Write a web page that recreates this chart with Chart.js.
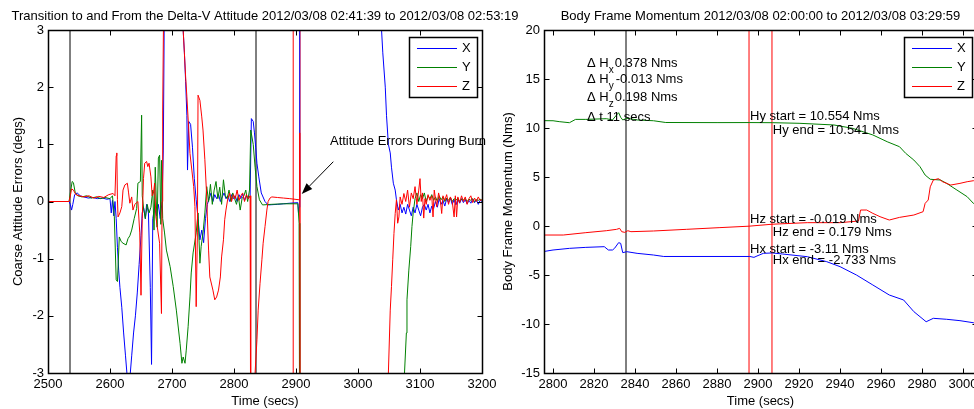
<!DOCTYPE html>
<html><head><meta charset="utf-8">
<script src="https://cdn.jsdelivr.net/npm/chart.js@4.4.1/dist/chart.umd.min.js"></script>
<style>
html,body{margin:0;padding:0;overflow:hidden;background:#fff;width:974px;height:409px}
#c1{position:absolute;left:0;top:0}
#c2{position:absolute;left:490px;top:0}
</style></head><body>
<canvas id="c1" width="974" height="409"></canvas>
<canvas id="c2" width="500" height="409"></canvas>
<script>
// ---------------- DATA ----------------
const seriesNames = ['X', 'Y', 'Z'];

// Left panel: attitude errors (degs) vs time (secs)
const attitudeTicksX = [2500, 2600, 2700, 2800, 2900, 3000, 3100, 3200];
const attitudeTicksY = [-3, -2, -1, 0, 1, 2, 3];
const attitudeMarkersBlack = [2535.5, 2835.5];
const attitudeMarkersRed = [2895.5, 2906.5];

const attitudeX = [
 [2500,0],[2534,0],[2536,-0.05],[2538,-0.15],[2540,-0.05],[2543,0.12],[2547,0.15],[2552,0.1],[2558,0.08],[2565,0.06],
 [2572,0.07],[2580,0.05],[2588,0.06],[2595,0.04],[2600,0.05],[2602,-0.2],[2604,0.02],[2606,-0.25],[2608,0.0],[2610,-0.3],
 [2612,-0.8],[2614,-1.2],[2616,-1.5],[2619,-1.85],[2622,-2.3],[2625,-2.7],[2628,-3.1],[2632,-3.1],[2635,-2.7],[2638,-2.3],
 [2641,-2.0],[2644,-1.6],[2647,-1.1],[2650,-0.6],[2652,-0.2],[2654,-0.1],[2657,-0.3],[2659,-0.05],[2662,-0.2],[2665,-1.5],
 [2667,-2.85],[2669,-0.3],[2672,-0.1],[2675,-0.25],[2678,-0.05],[2681,-0.3],[2684,0.0],[2686,0.9],[2688,4],[2716,4],
 [2718,3.0],[2720,2.6],[2722,2.1],[2724,1.5],[2725,0.55],[2727,1.4],[2730,1.35],[2733,0.95],[2736,0.4],[2739,0.03],
 [2742,-0.3],[2745,-0.67],[2748,-0.5],[2751,-0.72],[2754,-0.3],[2757,-0.05],[2760,0.05],[2763,0.15],[2766,0.0],[2769,0.12],
 [2772,0.05],[2775,0.13],[2778,0.0],[2781,0.08],[2784,0.15],[2787,0.05],[2790,0.1],[2793,0.0],[2796,0.12],[2799,0.05],
 [2802,0.1],[2805,0.0],[2808,0.12],[2811,0.05],[2814,0.13],[2817,0.02],[2820,0.1],[2823,0.05],[2826,0.1],[2828,1.45],
 [2831,1.4],[2833,1.2],[2835,0.95],[2837,0.67],[2840,0.43],[2844,0.15],[2850,0.0],[2855,-0.06],[2870,-0.05],[2890,-0.03],
 [2903,-0.02],[2904,-0.2],[2905,-0.1],[2906,4],[3036,4],[3038,3],[3040,2.6],[3044,2.0],[3046,1.5],[3049,1.0],
 [3052,0.85],[3054,0.6],[3057,0.32],[3060,0.2],[3062,0.03],[3065,-0.15],[3068,-0.05],[3071,-0.2],[3074,-0.1],[3077,-0.22],
 [3080,-0.05],[3083,-0.15],[3086,-0.25],[3089,-0.1],[3092,-0.2],[3095,-0.05],[3098,-0.15],[3101,-0.25],[3104,-0.1],[3107,-0.05],
 [3110,-0.15],[3113,-0.05],[3116,-0.2],[3119,-0.08],[3122,-0.12],[3125,0.0],[3128,-0.1],[3131,0.05],[3134,-0.05],[3137,0.02],
 [3140,-0.08],[3143,0.05],[3146,-0.02],[3149,0.06],[3152,-0.05],[3155,0.03],[3158,-0.06],[3161,0.04],[3164,-0.03],[3167,0.05],
 [3170,-0.02],[3173,0.03],[3176,-0.04],[3179,0.02],[3182,-0.03],[3185,0.04],[3188,-0.02],[3191,0.03],[3194,-0.05],[3197,0.02],[3200,0.0]
];
const attitudeY = [
 [2500,0],[2534,0],[2536,0.15],[2539,0.35],[2541,0.33],[2544,0.15],[2548,0.1],[2555,0.08],[2562,0.1],[2570,0.06],
 [2578,0.08],[2585,0.05],[2592,0.07],[2600,0.05],[2604,0.1],[2607,-0.27],[2610,-1.37],[2612,-1.4],[2615,-0.62],[2618,-0.7],
 [2621,-0.73],[2626,-0.76],[2629,-0.65],[2632,-0.6],[2635,-0.5],[2639,-0.3],[2643,-0.12],[2645,0.32],[2649,0.35],[2651,1.51],
 [2652,0.1],[2654,-0.1],[2657,-0.3],[2660,-0.05],[2663,-0.2],[2666,-0.1],[2669,0.2],[2671,-0.5],[2673,0.6],[2676,-0.45],
 [2678,0.76],[2680,0.81],[2682,-0.4],[2683,0.72],[2685,-0.3],[2688,-0.55],[2691,-0.85],[2697,-1.14],[2702,-1.49],[2707,-1.9],
 [2713,-2.48],[2716,-2.83],[2718,-2.72],[2721,-2.83],[2723,-2.6],[2726,-2.19],[2729,-1.67],[2731,-1.25],[2734,-0.9],[2739,-0.55],
 [2742,-0.2],[2745,-1.08],[2747,-0.79],[2750,-0.55],[2753,-0.2],[2756,0.26],[2759,0.0],[2762,0.3],[2765,-0.05],[2768,0.2],
 [2771,0.35],[2774,0.05],[2777,0.25],[2780,-0.05],[2783,0.38],[2786,0.1],[2789,0.05],[2792,0.2],[2795,0.0],[2798,0.15],
 [2801,0.05],[2804,-0.05],[2807,0.1],[2810,-0.15],[2813,0.05],[2816,0.1],[2819,0.2],[2822,0.0],[2825,0.2],[2827,1.25],
 [2831,1.0],[2834,0.6],[2837,0.26],[2841,0.03],[2846,-0.06],[2860,-0.05],[2880,-0.04],[2903,-0.04],[2905,-0.38],[2906,-5],
 [3074,-5],[3075,-3.0],[3078,-2.3],[3079,-1.72],[3082,-1.2],[3085,-0.79],[3087,-0.44],[3089,-0.2],[3092,0.05],[3095,0.15],
 [3098,0.0],[3101,0.12],[3104,0.05],[3107,0.15],[3110,0.0],[3113,0.1],[3116,0.05],[3119,0.12],[3122,0.02],[3125,0.08],
 [3128,0.0],[3131,0.1],[3134,0.03],[3137,0.08],[3140,0.0],[3143,0.06],[3146,0.02],[3149,0.07],[3152,0.0],[3155,0.05],
 [3158,0.02],[3161,0.06],[3164,0.0],[3167,0.04],[3170,0.03],[3173,0.05],[3176,0.0],[3179,0.04],[3182,0.02],[3185,0.05],
 [3188,0.0],[3191,0.03],[3194,0.02],[3197,0.04],[3200,0.02]
];
const attitudeZ = [
 [2500,0],[2534,0],[2536,0.1],[2538,0.22],[2541,0.2],[2545,0.12],[2550,0.1],[2558,0.08],[2566,0.1],[2574,0.06],
 [2582,0.09],[2590,0.07],[2598,0.12],[2605,0.14],[2608,0.1],[2610,0.8],[2611,0.85],[2612,0.03],[2613,-0.27],[2616,-0.2],
 [2619,-0.09],[2621,0.2],[2624,0.29],[2628,0.32],[2630,0.15],[2632,-0.03],[2635,0.08],[2637,-0.15],[2640,-0.05],[2645,0.0],
 [2648,-0.55],[2650,-1.64],[2652,-0.3],[2654,0.4],[2656,0.67],[2659,0.7],[2661,0.61],[2663,0.67],[2666,0.43],[2668,0.1],
 [2670,0.14],[2672,0.32],[2674,-0.27],[2677,-0.5],[2680,-0.73],[2683,-1.96],[2684,0.0],[2685,1.6],[2687,4],[2716,4],
 [2718,3.0],[2720,2.6],[2722,2.18],[2724,1.83],[2727,1.25],[2729,0.84],[2732,0.55],[2735,0.26],[2737,-0.09],[2739,-1.84],
 [2741,-0.55],[2742,1.86],[2745,1.77],[2748,1.48],[2750,1.25],[2753,0.73],[2756,0.08],[2757,-0.27],[2759,-0.85],[2761,-1.32],
 [2766,-1.55],[2769,-1.72],[2772,-1.67],[2775,-1.55],[2778,-1.32],[2780,-0.97],[2783,-0.67],[2785,-0.32],[2787,-0.15],[2790,0.05],
 [2793,0.15],[2796,0.0],[2799,0.12],[2802,0.05],[2805,0.2],[2808,0.02],[2811,0.1],[2814,0.15],[2817,0.0],[2820,0.12],
 [2823,0.05],[2826,0.1],[2827,-5],[2833,-5],[2834,-3.0],[2837,-2.42],[2839,-1.9],[2842,-1.43],[2845,-1.02],[2847,-0.73],
 [2850,-0.44],[2853,-0.15],[2855,0.0],[2858,0.06],[2861,0.08],[2870,0.07],[2880,0.06],[2890,0.05],[2905,0.03],[2906,1.2],
 [2906.5,-5],[3048,-5],[3049,-3.0],[3052,-1.9],[3054,-1.49],[3056,-1.02],[3058,-0.56],[3060,-0.21],[3062,0.03],[3064,-0.38],
 [3066,-0.27],[3068,0.08],[3071,-0.05],[3074,0.14],[3077,0.0],[3080,0.2],[3083,-0.1],[3086,0.15],[3089,0.05],[3092,0.26],
 [3095,-0.05],[3098,0.2],[3100,0.4],[3102,0.0],[3104,0.15],[3106,-0.29],[3108,0.05],[3110,-0.05],[3113,0.12],[3116,0.02],
 [3119,0.1],[3121,-0.27],[3123,0.2],[3125,0.05],[3127,-0.09],[3130,0.15],[3133,0.0],[3135,-0.21],[3137,0.1],[3140,0.02],
 [3143,0.12],[3146,-0.05],[3149,0.08],[3152,0.0],[3155,-0.27],[3157,0.1],[3159,-0.27],[3161,0.08],[3164,-0.02],[3167,0.1],
 [3170,0.0],[3173,0.08],[3176,-0.05],[3179,0.05],[3182,0.1],[3185,-0.02],[3188,0.06],[3191,0.0],[3194,0.08],[3197,0.02],[3200,0.03]
];

// Right panel: body frame momentum (Nms) vs time (secs)
const momentumTicksX = [2800, 2820, 2840, 2860, 2880, 2900, 2920, 2940, 2960, 2980, 3000];
const momentumTicksY = [-15, -10, -5, 0, 5, 10, 15, 20];
const momentumMarkersBlack = [2835.6];
const momentumMarkersRed = [2895.6, 2906.8];

const momentumX = [
 [2795,-2.62],[2800,-2.45],[2808,-2.28],[2816,-2.18],[2825,-2.11],[2827,-2.45],[2829,-2.45],[2830,-2.28],[2832,-1.7],[2833,-1.77],
 [2834,-2.72],[2836,-2.62],[2841,-2.79],[2849,-2.96],[2854,-3.11],[2896,-3.11],[2898,-3.2],[2899.5,-3.06],[2902.6,-2.79],[2907,-2.75],
 [2912,-2.86],[2924,-3.13],[2933.5,-3.64],[2940,-4.15],[2948,-5.0],[2956,-6.02],[2964,-7.04],[2971,-7.55],[2976,-8.74],[2982,-9.77],
 [2985.5,-9.42],[2992,-9.52],[2998.5,-9.66],[3005,-9.87],[3008,-9.9]
];
const momentumY = [
 [2795,10.75],[2800,10.74],[2803,10.65],[2808,10.54],[2811,10.88],[2816,10.88],[2826,10.95],[2829,10.82],[2831,11.33],[2832,11.56],
 [2833,11.09],[2834,10.82],[2836,10.99],[2841,10.82],[2849,10.74],[2855,10.56],[2880,10.55],[2896,10.554],[2907,10.541],[2920,10.48],
 [2937,10.31],[2946,9.97],[2956,9.29],[2963,8.6],[2969,8.09],[2972,7.42],[2976,6.73],[2979,6.05],[2981.5,5.2],[2984,4.77],
 [2989,4.69],[2992,4.35],[2997,3.67],[3002,2.99],[3005,2.32],[3008,1.9]
];
const momentumZ = [
 [2795,-0.92],[2805,-0.92],[2816,-0.68],[2826,-0.48],[2831,-0.34],[2832.5,-0.24],[2833.5,-0.58],[2835,-0.65],[2836.5,-0.48],[2838,-0.58],
 [2849,-0.51],[2865,-0.34],[2881,-0.17],[2895.6,-0.019],[2906.8,0.179],[2924,0.34],[2940,0.34],[2949,0.51],[2950,1.63],[2953,1.63],
 [2956,1.29],[2959.5,0.95],[2964,0.61],[2969,0.88],[2976,1.12],[2980.5,1.46],[2981.5,2.31],[2983,2.65],[2984,4.0],[2985.5,4.69],
 [2988,4.83],[2990,4.52],[2994,4.18],[2998.5,4.35],[3002,4.52],[3005,4.62],[3008,4.6]
];

// ---------------- STYLE / LAYOUT ----------------
const FONT = '"Liberation Sans", Arial, Helvetica, sans-serif';
const COLORS = { X: '#0000ff', Y: '#008000', Z: '#ff0000' };

function seriesDatasets(x, y, z) {
  const mk = (name, d, order) => ({ label: name, data: d, borderColor: COLORS[name], borderWidth: 1,
    pointRadius: 0, tension: 0, fill: false, order });
  return [mk('Z', z, 1), mk('Y', y, 2), mk('X', x, 3)];
}
function markerDatasets(times, color) {
  return times.map(t => ({ data: [[t, -1000], [t, 1000]], borderColor: color, borderWidth: 1,
    pointRadius: 0, fill: false, order: 4 }));
}

function drawRich(ctx, parts, x, y) {
  let cx = x;
  parts.forEach(p => {
    ctx.font = (p.sub ? 10 : 13) + 'px ' + FONT;
    ctx.fillText(p.t, cx, y + (p.sub ? 6 : 0));
    cx += ctx.measureText(p.t).width + (p.gap || 0);
  });
}

const matlabPlugin = {
  id: 'matlab',
  afterDraw(chart, args, o) {
    const { ctx, chartArea: a } = chart;
    const xs = chart.scales.x, ys = chart.scales.y;
    ctx.save();
    ctx.strokeStyle = '#000'; ctx.fillStyle = '#000';
    const L = Math.round(a.left) + 0.5, R = Math.round(a.right) + 0.5;
    const T = Math.round(a.top) + 0.5, B = Math.round(a.bottom) + 0.5;
    ctx.lineWidth = 1.5;
    ctx.beginPath(); ctx.rect(L, T, R - L, B - T); ctx.stroke();
    ctx.lineWidth = 1;
    const tl = 5;
    ctx.beginPath();
    xs.ticks.forEach(t => { const p = Math.round(xs.getPixelForValue(t.value)) + 0.5;
      ctx.moveTo(p, B); ctx.lineTo(p, B - tl); ctx.moveTo(p, T); ctx.lineTo(p, T + tl); });
    ys.ticks.forEach(t => { const p = Math.round(ys.getPixelForValue(t.value)) + 0.5;
      ctx.moveTo(L, p); ctx.lineTo(L + tl, p); ctx.moveTo(R, p); ctx.lineTo(R - tl, p); });
    ctx.stroke();

    // title and axis labels
    ctx.font = '13px ' + FONT; ctx.textBaseline = 'alphabetic'; ctx.textAlign = 'center';
    const cx = (a.left + a.right) / 2;
    ctx.fillText(o.title, cx, 19.5);
    ctx.fillText(o.xlabel, cx, 405);
    ctx.save(); ctx.translate(22, (a.top + a.bottom) / 2); ctx.rotate(-Math.PI / 2);
    ctx.fillText(o.ylabel, 0, 0); ctx.restore();

    // annotations (data coordinates)
    ctx.textAlign = 'left';
    (o.texts || []).forEach(tx => {
      const px = xs.getPixelForValue(tx.x), py = ys.getPixelForValue(tx.y);
      drawRich(ctx, tx.parts, px, py);
    });
    if (o.arrow) {
      const x0 = xs.getPixelForValue(o.arrow.from[0]), y0 = ys.getPixelForValue(o.arrow.from[1]);
      const x1 = xs.getPixelForValue(o.arrow.to[0]), y1 = ys.getPixelForValue(o.arrow.to[1]);
      const ang = Math.atan2(y1 - y0, x1 - x0), hl = 11, hw = 4;
      const bx = x1 - hl * Math.cos(ang), by = y1 - hl * Math.sin(ang);
      ctx.beginPath(); ctx.moveTo(x0, y0); ctx.lineTo(bx, by); ctx.stroke();
      ctx.beginPath(); ctx.moveTo(x1, y1);
      ctx.lineTo(bx + hw * Math.sin(ang), by - hw * Math.cos(ang));
      ctx.lineTo(bx - hw * Math.sin(ang), by + hw * Math.cos(ang));
      ctx.closePath(); ctx.fill();
    }

    // legend box
    const lw = 68, lh = 60;
    const lx = Math.round(a.right) - 5 - lw, ly = Math.round(a.top) + 7;
    ctx.fillStyle = '#fff'; ctx.fillRect(lx, ly, lw, lh);
    ctx.strokeStyle = '#000'; ctx.lineWidth = 1.5; ctx.strokeRect(lx + 0.5, ly + 0.5, lw, lh);
    ctx.lineWidth = 1;
    ctx.font = '13px ' + FONT; ctx.textBaseline = 'middle'; ctx.textAlign = 'left';
    seriesNames.forEach((n, i) => {
      const yy = ly + 11.5 + i * 19;
      ctx.strokeStyle = COLORS[n]; ctx.beginPath(); ctx.moveTo(lx + 8, yy); ctx.lineTo(lx + 48, yy); ctx.stroke();
      ctx.fillStyle = '#000'; ctx.fillText(n, lx + 53, yy);
    });
    ctx.restore();
  }
};

function axisOpts(min, max, ticks, fit) {
  return {
    type: 'linear', min, max,
    afterBuildTicks: s => { s.ticks = ticks.map(v => ({ value: v })); },
    afterFit: fit,
    grid: { display: false, drawTicks: false }, border: { display: false },
    ticks: { autoSkip: false, maxRotation: 0, padding: 4, color: '#000',
      font: { family: FONT, size: 13 }, callback: v => String(v) }
  };
}

function makeChart(canvas, cfg) {
  return new Chart(canvas, {
    type: 'line',
    data: { datasets: cfg.datasets },
    options: {
      responsive: false, animation: false, events: [],
      layout: { padding: cfg.padding },
      scales: {
        x: axisOpts(cfg.xmin, cfg.xmax, cfg.xticks, s => { s.height = 36; }),
        y: axisOpts(cfg.ymin, cfg.ymax, cfg.yticks, s => { s.width = cfg.yWidth; })
      },
      plugins: { legend: { display: false }, tooltip: { enabled: false }, title: { display: false },
        matlab: cfg.matlab }
    },
    plugins: [matlabPlugin]
  });
}

makeChart(document.getElementById('c1'), {
  datasets: [...seriesDatasets(attitudeX, attitudeY, attitudeZ),
    ...markerDatasets(attitudeMarkersBlack, '#000'), ...markerDatasets(attitudeMarkersRed, '#ff0000')],
  padding: { left: 0, right: 492, top: 30, bottom: 0 }, yWidth: 48,
  xmin: 2500, xmax: 3200, xticks: attitudeTicksX,
  ymin: -3, ymax: 3, yticks: attitudeTicksY,
  matlab: {
    title: 'Transition to and From the Delta-V Attitude 2012/03/08 02:41:39 to 2012/03/08 02:53:19',
    xlabel: 'Time (secs)', ylabel: 'Coarse Attitude Errors (degs)',
    texts: [{ x: 2954.8, y: 0.988, parts: [{ t: 'Attitude Errors During Burn' }] }],
    arrow: { from: [2960.2, 0.696], to: [2909.2, 0.131] }
  }
});

makeChart(document.getElementById('c2'), {
  datasets: [...seriesDatasets(momentumX, momentumY, momentumZ),
    ...markerDatasets(momentumMarkersBlack, '#000'), ...markerDatasets(momentumMarkersRed, '#ff0000')],
  padding: { left: 0, right: 13, top: 30, bottom: 0 }, yWidth: 54,
  xmin: 2795.6, xmax: 3006.8, xticks: momentumTicksX,
  ymin: -15, ymax: 20, yticks: momentumTicksY,
  matlab: {
    title: 'Body Frame Momentum 2012/03/08 02:00:00 to 2012/03/08 03:29:59',
    xlabel: 'Time (secs)', ylabel: 'Body Frame Momentum (Nms)',
    texts: [
      { x: 2816.6, y: 16.26, parts: [{ t: '\u0394 H' }, { t: 'x', sub: true, gap: 1 }, { t: '0.378 Nms' }] },
      { x: 2816.6, y: 14.56, parts: [{ t: '\u0394 H' }, { t: 'y', sub: true, gap: 2 }, { t: '-0.013 Nms' }] },
      { x: 2816.6, y: 12.76, parts: [{ t: '\u0394 H' }, { t: 'z', sub: true, gap: 1 }, { t: '0.198 Nms' }] },
      { x: 2816.6, y: 10.74, parts: [{ t: '\u0394 t 11 secs' }] },
      { x: 2896.1, y: 10.82, parts: [{ t: 'Hy start = 10.554 Nms' }] },
      { x: 2907.2, y: 9.39, parts: [{ t: 'Hy end = 10.541 Nms' }] },
      { x: 2896.1, y: 0.31, parts: [{ t: 'Hz start = -0.019 Nms' }] },
      { x: 2907.2, y: -1.02, parts: [{ t: 'Hz end = 0.179 Nms' }] },
      { x: 2896.1, y: -2.72, parts: [{ t: 'Hx start = -3.11 Nms' }] },
      { x: 2907.2, y: -3.88, parts: [{ t: 'Hx end = -2.733 Nms' }] }
    ]
  }
});
</script>
</body></html>
